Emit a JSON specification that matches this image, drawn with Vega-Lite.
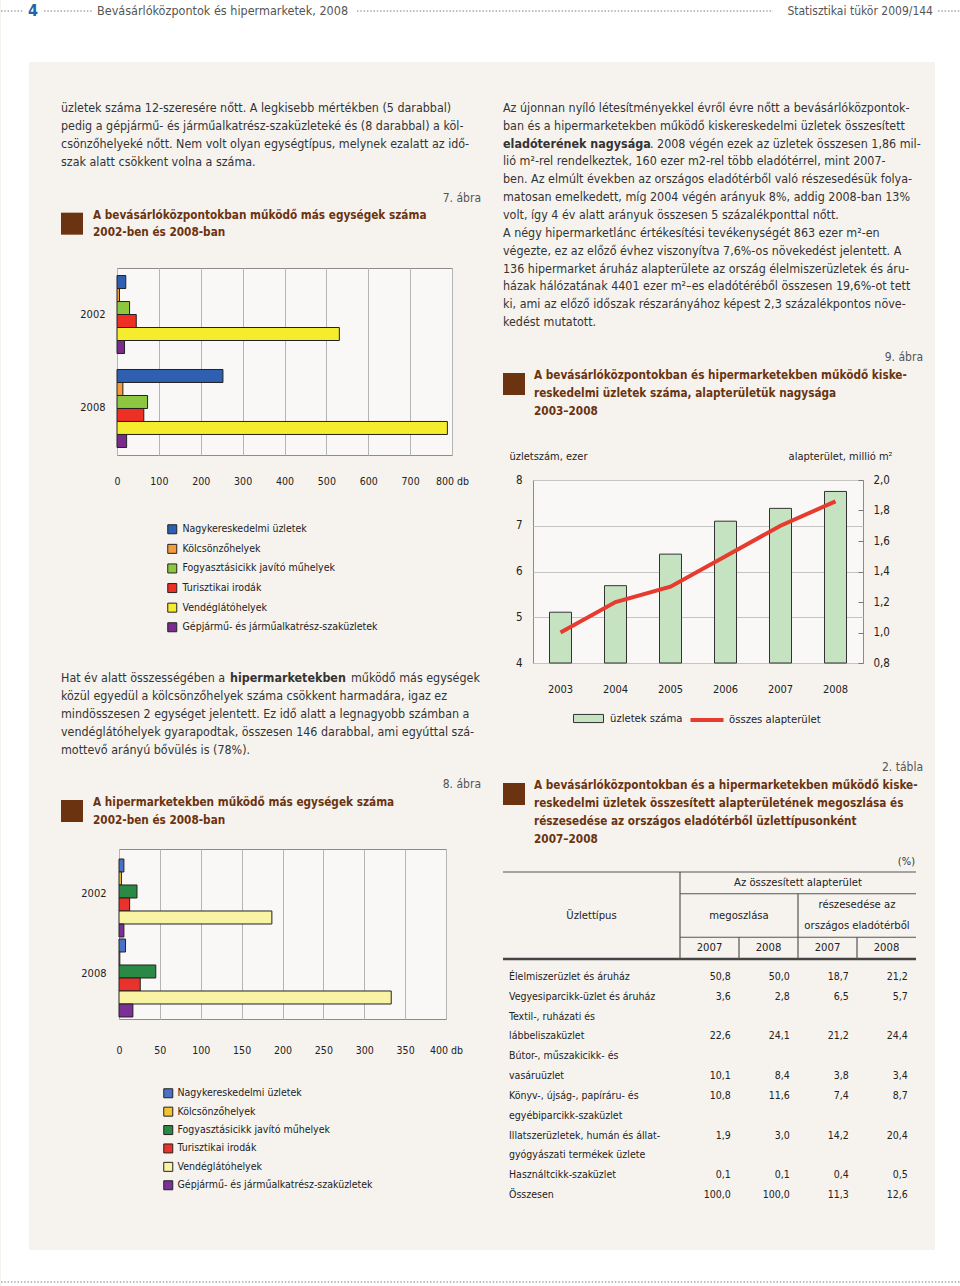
{
"$schema":"https://vega.github.io/schema/vega-lite/v6.json",
"padding":0,
"background":"#f6f3ef",
"spacing":0,
"resolve":{"scale":{"color":"independent","fill":"independent","stroke":"independent"},"legend":{"color":"independent","fill":"independent","stroke":"independent"}},
"config":{"font":"DejaVu Sans Condensed, Liberation Sans, sans-serif","view":{"stroke":null},"locale":{"number":{"decimal":",","thousands":" ","grouping":[3],"currency":["",""]}},"axis":{"labelColor":"#222","titleColor":"#222"},"legend":{"labelColor":"#222"}},
"datasets":{
"chart7":[
{"year":"2002","cat":"Nagykereskedelmi üzletek","value":21},
{"year":"2002","cat":"Kölcsönzőhelyek","value":6},
{"year":"2002","cat":"Fogyasztásicikk javító műhelyek","value":30},
{"year":"2002","cat":"Turisztikai irodák","value":46},
{"year":"2002","cat":"Vendéglátóhelyek","value":531},
{"year":"2002","cat":"Gépjármű- és járműalkatrész-szaküzletek","value":18},
{"year":"2008","cat":"Nagykereskedelmi üzletek","value":253},
{"year":"2008","cat":"Kölcsönzőhelyek","value":14},
{"year":"2008","cat":"Fogyasztásicikk javító műhelyek","value":73},
{"year":"2008","cat":"Turisztikai irodák","value":64},
{"year":"2008","cat":"Vendéglátóhelyek","value":789},
{"year":"2008","cat":"Gépjármű- és járműalkatrész-szaküzletek","value":23}],
"chart8":[
{"year":"2002","cat":"Nagykereskedelmi üzletek","value":6},
{"year":"2002","cat":"Kölcsönzőhelyek","value":3},
{"year":"2002","cat":"Fogyasztásicikk javító műhelyek","value":22},
{"year":"2002","cat":"Turisztikai irodák","value":13},
{"year":"2002","cat":"Vendéglátóhelyek","value":187},
{"year":"2002","cat":"Gépjármű- és járműalkatrész-szaküzletek","value":6},
{"year":"2008","cat":"Nagykereskedelmi üzletek","value":8},
{"year":"2008","cat":"Kölcsönzőhelyek","value":1},
{"year":"2008","cat":"Fogyasztásicikk javító műhelyek","value":45},
{"year":"2008","cat":"Turisztikai irodák","value":26},
{"year":"2008","cat":"Vendéglátóhelyek","value":333},
{"year":"2008","cat":"Gépjármű- és járműalkatrész-szaküzletek","value":17}],
"chart9":[
{"year":"2003","stores":5.11,"area":1.00},
{"year":"2004","stores":5.69,"area":1.20},
{"year":"2005","stores":6.38,"area":1.30},
{"year":"2006","stores":7.10,"area":1.50},
{"year":"2007","stores":7.38,"area":1.70},
{"year":"2008","stores":7.75,"area":1.86}],
"tlabels":[
{"line":1,"text":"Élelmiszerüzlet és áruház"},
{"line":2,"text":"Vegyesiparcikk-üzlet és áruház"},
{"line":3,"text":"Textil-, ruházati és"},
{"line":4,"text":"lábbeliszaküzlet"},
{"line":5,"text":"Bútor-, műszakicikk- és"},
{"line":6,"text":"vasáruüzlet"},
{"line":7,"text":"Könyv-, újság-, papíráru- és"},
{"line":8,"text":"egyébiparcikk-szaküzlet"},
{"line":9,"text":"Illatszerüzletek, humán és állat-"},
{"line":10,"text":"gyógyászati termékek üzlete"},
{"line":11,"text":"Használtcikk-szaküzlet"},
{"line":12,"text":"Összesen"}],
"tcells":[
{"line":1,"col":"m2007","value":50.8},{"line":1,"col":"m2008","value":50.0},{"line":1,"col":"r2007","value":18.7},{"line":1,"col":"r2008","value":21.2},
{"line":2,"col":"m2007","value":3.6},{"line":2,"col":"m2008","value":2.8},{"line":2,"col":"r2007","value":6.5},{"line":2,"col":"r2008","value":5.7},
{"line":4,"col":"m2007","value":22.6},{"line":4,"col":"m2008","value":24.1},{"line":4,"col":"r2007","value":21.2},{"line":4,"col":"r2008","value":24.4},
{"line":6,"col":"m2007","value":10.1},{"line":6,"col":"m2008","value":8.4},{"line":6,"col":"r2007","value":3.8},{"line":6,"col":"r2008","value":3.4},
{"line":7,"col":"m2007","value":10.8},{"line":7,"col":"m2008","value":11.6},{"line":7,"col":"r2007","value":7.4},{"line":7,"col":"r2008","value":8.7},
{"line":9,"col":"m2007","value":1.9},{"line":9,"col":"m2008","value":3.0},{"line":9,"col":"r2007","value":14.2},{"line":9,"col":"r2008","value":20.4},
{"line":11,"col":"m2007","value":0.1},{"line":11,"col":"m2008","value":0.1},{"line":11,"col":"r2007","value":0.4},{"line":11,"col":"r2008","value":0.5},
{"line":12,"col":"m2007","value":100.0},{"line":12,"col":"m2008","value":100.0},{"line":12,"col":"r2007","value":11.3},{"line":12,"col":"r2008","value":12.6}]
},
"vconcat":[
{"width":960,"height":62,"view":{"fill":"#ffffff","stroke":null},"data":{"values":[{}]},
"layer":[
{"mark":{"type":"rule","color":"#a8a8a8","strokeWidth":1.5,"strokeDash":[1.5,1.8]},"encoding":{"x":{"value":0},"x2":{"value":22},"y":{"value":11}}},
{"mark":{"type":"rule","color":"#a8a8a8","strokeWidth":1.5,"strokeDash":[1.5,1.8]},"encoding":{"x":{"value":43},"x2":{"value":92},"y":{"value":11}}},
{"mark":{"type":"rule","color":"#a8a8a8","strokeWidth":1.5,"strokeDash":[1.5,1.8]},"encoding":{"x":{"value":356},"x2":{"value":772},"y":{"value":11}}},
{"mark":{"type":"rule","color":"#a8a8a8","strokeWidth":1.5,"strokeDash":[1.5,1.8]},"encoding":{"x":{"value":937},"x2":{"value":960},"y":{"value":11}}},
{"mark":{"type":"text","text":"4","fontSize":16,"fontWeight":"bold","color":"#1e63ad","align":"center","baseline":"middle"},"encoding":{"x":{"value":32},"y":{"value":11}}},
{"mark":{"type":"text","text":"Bevásárlóközpontok és hipermarketek, 2008","fontSize":12.5,"color":"#555555","align":"left","baseline":"middle"},"encoding":{"x":{"value":96},"y":{"value":11}}},
{"mark":{"type":"text","text":"Statisztikai tükör 2009/144","fontSize":12,"color":"#555555","align":"right","baseline":"middle"},"encoding":{"x":{"value":932},"y":{"value":11}}}
]},
{"spacing":0,"resolve":{"scale":{"color":"independent","fill":"independent","stroke":"independent"},"legend":{"color":"independent","fill":"independent","stroke":"independent"}},"hconcat":[
{"width":28,"height":1188,"view":{"fill":"#ffffff","stroke":null},"data":{"values":[]},"mark":"point"},
{"width":32,"height":1,"data":{"values":[]},"mark":"point"},
{"spacing":0,"resolve":{"scale":{"color":"independent"},"legend":{"color":"independent"}},"vconcat":[
{"width":420,"height":37,"data":{"values":[]},"mark":"point"},
{"width":420,"height":72,"data":{"values":[
{"line":1,"text":"üzletek száma 12-szeresére nőtt. A legkisebb mértékben (5 darabbal)"},
{"line":2,"text":"pedig a gépjármű- és járműalkatrész-szaküzleteké és (8 darabbal) a köl-"},
{"line":3,"text":"csönzőhelyeké nőtt. Nem volt olyan egységtípus, melynek ezalatt az idő-"},
{"line":4,"text":"szak alatt csökkent volna a száma."}]},
"mark":{"type":"text","align":"left","baseline":"middle","fontSize":12.4,"color":"#333333"},
"encoding":{"y":{"field":"line","type":"ordinal","axis":null,"scale":{"type":"point","padding":0.5}},"x":{"value":0},"text":{"field":"text"}}},
{"width":420,"height":18,"data":{"values":[]},"mark":"point"},
{"width":420,"height":52,"data":{"values":[{"row":"a","text":"7. ábra"},{"row":"t1","text":"A bevásárlóközpontokban működő más egységek száma"},{"row":"t2","text":"2002-ben és 2008-ban"}]},
"layer":[
{"transform":[{"filter":"datum.row == 'a'"}],"mark":{"type":"text","align":"right","baseline":"middle","fontSize":12,"color":"#555555"},"encoding":{"x":{"value":420},"y":{"field":"row","type":"ordinal","bandPosition":0.5,"axis":null,"scale":{"type":"band","domain":["a","t1","t2"],"paddingInner":0,"paddingOuter":0}},"text":{"field":"text"}}},
{"transform":[{"filter":"datum.row != 'a'"}],"mark":{"type":"text","align":"left","baseline":"middle","fontSize":11.7,"fontWeight":"bold","color":"#6b3310"},"encoding":{"x":{"value":32},"y":{"field":"row","type":"ordinal","bandPosition":0.5,"axis":null,"scale":{"type":"band","domain":["a","t1","t2"],"paddingInner":0,"paddingOuter":0}},"text":{"field":"text"}}},
{"transform":[{"filter":"datum.row == 't1'"}],"mark":{"type":"point","shape":"square","size":484,"filled":true,"color":"#6b3310","opacity":1},"encoding":{"x":{"value":11},"y":{"field":"row","type":"ordinal","bandPosition":1,"axis":null,"scale":{"type":"band","domain":["a","t1","t2"],"paddingInner":0,"paddingOuter":0}}}}
]},
{"width":420,"height":26,"data":{"values":[]},"mark":"point"},
{"spacing":0,"hconcat":[
{"width":1,"height":187,"data":{"values":[]},"mark":"point"},
{"width":335,"height":187,"data":{"name":"chart7"},
"view":{"stroke":"#8c8c8c","strokeWidth":1,"fill":"#f9f8f6"},
"mark":{"type":"bar","stroke":"#222222","strokeWidth":1},
"encoding":{
"y":{"field":"year","type":"nominal","title":null,"scale":{"paddingInner":0.17,"paddingOuter":0.08},"axis":{"ticks":false,"domain":false,"labelPadding":12,"labelFontSize":11,"minExtent":54}},
"yOffset":{"field":"cat","type":"nominal","sort":["Nagykereskedelmi üzletek","Kölcsönzőhelyek","Fogyasztásicikk javító műhelyek","Turisztikai irodák","Vendéglátóhelyek","Gépjármű- és járműalkatrész-szaküzletek"],"scale":{"paddingInner":0,"paddingOuter":0}},
"x":{"field":"value","type":"quantitative","title":null,"scale":{"domain":[0,800],"nice":false},"axis":{"values":[0,100,200,300,400,500,600,700,800],"grid":true,"gridColor":"#b5b5b5","domain":false,"ticks":false,"labelPadding":21,"labelFontSize":10.5,"labelOverlap":false,"labelFlush":false,"minExtent":213,"labelExpr":"datum.value == 800 ? '800 db' : datum.label"}},
"color":{"field":"cat","type":"nominal","scale":{"domain":["Nagykereskedelmi üzletek","Kölcsönzőhelyek","Fogyasztásicikk javító műhelyek","Turisztikai irodák","Vendéglátóhelyek","Gépjármű- és járműalkatrész-szaküzletek"],"range":["#2e5fb0","#f39c3c","#8dc63f","#ed2f24","#f4ec2c","#7a2b8b"]},
"legend":{"title":null,"orient":"none","legendX":106,"legendY":256,"direction":"vertical","symbolType":"square","symbolSize":81,"symbolStrokeColor":"#222222","symbolStrokeWidth":1,"labelFontSize":10.5,"rowPadding":5.6,"labelOffset":5,"padding":0,"labelLimit":300}}
}}
]},
{"width":420,"height":90,"data":{"values":[
{"line":1,"part":"a","text":"Hat év alatt összességében a"},
{"line":1,"part":"b","text":"hipermarketekben"},
{"line":1,"part":"c","text":"működő más egységek"},
{"line":2,"part":"a","text":"közül egyedül a kölcsönzőhelyek száma csökkent harmadára, igaz ez"},
{"line":3,"part":"a","text":"mindösszesen 2 egységet jelentett. Ez idő alatt a legnagyobb számban a"},
{"line":4,"part":"a","text":"vendéglátóhelyek gyarapodtak, összesen 146 darabbal, ami egyúttal szá-"},
{"line":5,"part":"a","text":"mottevő arányú bővülés is (78%)."}]},
"encoding":{"y":{"field":"line","type":"ordinal","axis":null,"scale":{"type":"point","padding":0.5}},"text":{"field":"text"}},
"layer":[
{"transform":[{"filter":"datum.part == 'a'"}],"mark":{"type":"text","align":"left","baseline":"middle","fontSize":12.4,"color":"#333333"},"encoding":{"x":{"value":0}}},
{"transform":[{"filter":"datum.part == 'b'"}],"mark":{"type":"text","align":"left","baseline":"middle","fontSize":12.4,"fontWeight":"bold","color":"#333333"},"encoding":{"x":{"value":169}}},
{"transform":[{"filter":"datum.part == 'c'"}],"mark":{"type":"text","align":"left","baseline":"middle","fontSize":12.4,"color":"#333333"},"encoding":{"x":{"value":290}}}
]},
{"width":420,"height":16,"data":{"values":[]},"mark":"point"},
{"width":420,"height":54,"data":{"values":[{"row":"a","text":"8. ábra"},{"row":"t1","text":"A hipermarketekben működő más egységek száma"},{"row":"t2","text":"2002-ben és 2008-ban"}]},
"layer":[
{"transform":[{"filter":"datum.row == 'a'"}],"mark":{"type":"text","align":"right","baseline":"middle","fontSize":12,"color":"#555555"},"encoding":{"x":{"value":420},"y":{"field":"row","type":"ordinal","bandPosition":0.5,"axis":null,"scale":{"type":"band","domain":["a","t1","t2"],"paddingInner":0,"paddingOuter":0}},"text":{"field":"text"}}},
{"transform":[{"filter":"datum.row != 'a'"}],"mark":{"type":"text","align":"left","baseline":"middle","fontSize":11.7,"fontWeight":"bold","color":"#6b3310"},"encoding":{"x":{"value":32},"y":{"field":"row","type":"ordinal","bandPosition":0.5,"axis":null,"scale":{"type":"band","domain":["a","t1","t2"],"paddingInner":0,"paddingOuter":0}},"text":{"field":"text"}}},
{"transform":[{"filter":"datum.row == 't1'"}],"mark":{"type":"point","shape":"square","size":484,"filled":true,"color":"#6b3310","opacity":1},"encoding":{"x":{"value":11},"y":{"field":"row","type":"ordinal","bandPosition":1,"axis":null,"scale":{"type":"band","domain":["a","t1","t2"],"paddingInner":0,"paddingOuter":0}}}}
]},
{"width":420,"height":19,"data":{"values":[]},"mark":"point"},
{"spacing":0,"hconcat":[
{"width":1,"height":170,"data":{"values":[]},"mark":"point"},
{"width":327,"height":170,"data":{"name":"chart8"},
"view":{"stroke":"#8c8c8c","strokeWidth":1,"fill":"#f9f8f6"},
"mark":{"type":"bar","stroke":"#222222","strokeWidth":1},
"encoding":{
"y":{"field":"year","type":"nominal","title":null,"scale":{"paddingInner":0.125,"paddingOuter":0.125},"axis":{"ticks":false,"domain":false,"labelPadding":13,"labelFontSize":11,"minExtent":56}},
"yOffset":{"field":"cat","type":"nominal","sort":["Nagykereskedelmi üzletek","Kölcsönzőhelyek","Fogyasztásicikk javító műhelyek","Turisztikai irodák","Vendéglátóhelyek","Gépjármű- és járműalkatrész-szaküzletek"],"scale":{"paddingInner":0,"paddingOuter":0}},
"x":{"field":"value","type":"quantitative","title":null,"scale":{"domain":[0,400],"nice":false},"axis":{"values":[0,50,100,150,200,250,300,350,400],"grid":true,"gridColor":"#b5b5b5","domain":false,"ticks":false,"labelPadding":26,"labelFontSize":10.5,"labelOverlap":false,"labelFlush":false,"labelExpr":"datum.value == 400 ? '400 db' : datum.label"}},
"color":{"field":"cat","type":"nominal","scale":{"domain":["Nagykereskedelmi üzletek","Kölcsönzőhelyek","Fogyasztásicikk javító műhelyek","Turisztikai irodák","Vendéglátóhelyek","Gépjármű- és járműalkatrész-szaküzletek"],"range":["#4a72c4","#f5c232","#2a8a45","#e8322b","#f8f4a4","#7b3096"]},
"legend":{"title":null,"orient":"none","legendX":102,"legendY":239,"direction":"vertical","symbolType":"square","symbolSize":81,"symbolStrokeColor":"#222222","symbolStrokeWidth":1,"labelFontSize":10.5,"rowPadding":4.4,"labelOffset":4,"padding":0,"labelLimit":300}}
}}
]}
]},
{"width":20,"height":1,"data":{"values":[]},"mark":"point"},
{"spacing":0,"resolve":{"scale":{"color":"independent","fill":"independent","stroke":"independent"},"legend":{"color":"independent","fill":"independent","stroke":"independent"}},"vconcat":[
{"width":420,"height":37,"data":{"values":[]},"mark":"point"},
{"width":420,"height":232,"data":{"values":[
{"line":1,"part":"a","text":"Az újonnan nyíló létesítményekkel évről évre nőtt a bevásárlóközpontok-"},
{"line":2,"part":"a","text":"ban és a hipermarketekben működő kiskereskedelmi üzletek összesített"},
{"line":3,"part":"b","text":"eladóterének nagysága"},
{"line":3,"part":"c","text":". 2008 végén ezek az üzletek összesen 1,86 mil-"},
{"line":4,"part":"a","text":"lió m²-rel rendelkeztek, 160 ezer  m2-rel több eladótérrel, mint 2007-"},
{"line":5,"part":"a","text":"ben. Az elmúlt években az országos eladótérből való részesedésük folya-"},
{"line":6,"part":"a","text":"matosan emelkedett, míg 2004 végén arányuk 8%, addig 2008-ban 13%"},
{"line":7,"part":"a","text":"volt, így 4 év alatt arányuk összesen 5 százalékponttal nőtt."},
{"line":8,"part":"a","text":"A négy hipermarketlánc értékesítési tevékenységét 863 ezer m²-en"},
{"line":9,"part":"a","text":"végezte, ez az előző évhez viszonyítva 7,6%-os növekedést jelentett. A"},
{"line":10,"part":"a","text":"136 hipermarket áruház alapterülete az ország élelmiszerüzletek és áru-"},
{"line":11,"part":"a","text":"házak hálózatának 4401 ezer m²–es eladótéréből összesen 19,6%-ot tett"},
{"line":12,"part":"a","text":"ki, ami az előző időszak részarányához képest 2,3 százalékpontos növe-"},
{"line":13,"part":"a","text":"kedést mutatott."}]},
"encoding":{"y":{"field":"line","type":"ordinal","axis":null,"scale":{"type":"point","padding":0.5}},"text":{"field":"text"}},
"layer":[
{"transform":[{"filter":"datum.part == 'a'"}],"mark":{"type":"text","align":"left","baseline":"middle","fontSize":12.4,"color":"#333333"},"encoding":{"x":{"value":0}}},
{"transform":[{"filter":"datum.part == 'b'"}],"mark":{"type":"text","align":"left","baseline":"middle","fontSize":12.4,"fontWeight":"bold","color":"#333333"},"encoding":{"x":{"value":0}}},
{"transform":[{"filter":"datum.part == 'c'"}],"mark":{"type":"text","align":"left","baseline":"middle","fontSize":12.4,"color":"#333333"},"encoding":{"x":{"value":147}}}
]},
{"width":420,"height":17,"data":{"values":[]},"mark":"point"},
{"width":420,"height":72,"data":{"values":[{"row":"a","text":"9. ábra"},{"row":"t1","text":"A bevásárlóközpontokban és hipermarketekben működő kiske-"},{"row":"t2","text":"reskedelmi üzletek száma, alapterületük nagysága"},{"row":"t3","text":"2003–2008"}]},
"layer":[
{"transform":[{"filter":"datum.row == 'a'"}],"mark":{"type":"text","align":"right","baseline":"middle","fontSize":12,"color":"#555555"},"encoding":{"x":{"value":420},"y":{"field":"row","type":"ordinal","bandPosition":0.5,"axis":null,"scale":{"type":"band","domain":["a","t1","t2","t3"],"paddingInner":0,"paddingOuter":0}},"text":{"field":"text"}}},
{"transform":[{"filter":"datum.row != 'a'"}],"mark":{"type":"text","align":"left","baseline":"middle","fontSize":11.7,"fontWeight":"bold","color":"#6b3310"},"encoding":{"x":{"value":31},"y":{"field":"row","type":"ordinal","bandPosition":0.5,"axis":null,"scale":{"type":"band","domain":["a","t1","t2","t3"],"paddingInner":0,"paddingOuter":0}},"text":{"field":"text"}}},
{"transform":[{"filter":"datum.row == 't1'"}],"mark":{"type":"point","shape":"square","size":484,"filled":true,"color":"#6b3310","opacity":1},"encoding":{"x":{"value":11},"y":{"field":"row","type":"ordinal","bandPosition":1,"axis":null,"scale":{"type":"band","domain":["a","t1","t2","t3"],"paddingInner":0,"paddingOuter":0}}}}
]},
{"width":420,"height":29,"data":{"values":[]},"mark":"point"},
{"spacing":0,"hconcat":[
{"width":1,"height":183,"data":{"values":[]},"mark":"point"},
{"width":330,"height":183,"data":{"name":"chart9"},
"view":{"stroke":"#8c8c8c","strokeWidth":1,"fill":"#f9f8f6"},
"encoding":{"x":{"field":"year","type":"ordinal","title":null,"scale":{"paddingInner":0.6,"paddingOuter":0.3},"axis":{"labelAngle":0,"ticks":false,"domain":false,"labelPadding":20,"labelFontSize":11,"minExtent":94}}},
"layer":[
{"mark":{"type":"bar","stroke":"#333333","strokeWidth":1},
"encoding":{
"y":{"field":"stores","type":"quantitative","scale":{"domain":[4,8],"zero":false,"nice":false},"axis":{"title":"üzletszám, ezer","titleAngle":0,"titleAlign":"left","titleBaseline":"middle","titleX":-24,"titleY":-24,"titleFontWeight":"normal","titleFontSize":11,"values":[4,5,6,7,8],"grid":true,"gridColor":"#c4c4c4","ticks":false,"domain":false,"labelPadding":11,"labelFontSize":11.5,"minExtent":28}},
"y2":{"datum":4},
"fill":{"datum":"üzletek száma","type":"nominal","scale":{"range":["#c5e2c1"]},
"legend":{"title":null,"orient":"none","legendX":70,"legendY":223,"symbolType":"M-1,-0.27H1V0.27H-1Z","symbolSize":900,"symbolStrokeColor":"#333333","symbolStrokeWidth":1,"labelFontSize":11.2,"labelOffset":6,"padding":0,"labelLimit":300}}}},
{"mark":{"type":"line","strokeWidth":4},
"encoding":{
"y":{"field":"area","type":"quantitative","scale":{"domain":[0.8,2.0],"zero":false,"nice":false},"axis":{"orient":"right","title":"alapterület, millió m²","titleAngle":0,"titleAlign":"right","titleBaseline":"middle","titleX":29,"titleY":-24,"titleFontWeight":"normal","titleFontSize":11,"values":[0.8,1.0,1.2,1.4,1.6,1.8,2.0],"format":".1f","grid":false,"ticks":true,"tickSize":-5,"tickColor":"#777777","domain":false,"labelPadding":15,"labelFontSize":11.5}},
"stroke":{"datum":"összes alapterület","type":"nominal","scale":{"range":["#e63b2e"]},
"legend":{"title":null,"orient":"none","legendX":187,"legendY":223,"symbolType":"M-1.1,0H1.1","symbolSize":900,"symbolStrokeWidth":4,"symbolFillColor":"transparent","labelFontSize":11.2,"labelOffset":5,"padding":0,"labelLimit":300}}}}
],
"resolve":{"scale":{"y":"independent"}}}
]},
{"width":420,"height":90,"data":{"values":[{"row":"a","text":"2. tábla"},{"row":"t1","text":"A bevásárlóközpontokban és a hipermarketekben működő kiske-"},{"row":"t2","text":"reskedelmi üzletek összesített alapterületének megoszlása és"},{"row":"t3","text":"részesedése az országos eladótérből üzlettípusonként"},{"row":"t4","text":"2007–2008"}]},
"layer":[
{"transform":[{"filter":"datum.row == 'a'"}],"mark":{"type":"text","align":"right","baseline":"middle","fontSize":12,"color":"#555555"},"encoding":{"x":{"value":420},"y":{"field":"row","type":"ordinal","bandPosition":0.5,"axis":null,"scale":{"type":"band","domain":["a","t1","t2","t3","t4"],"paddingInner":0,"paddingOuter":0}},"text":{"field":"text"}}},
{"transform":[{"filter":"datum.row != 'a'"}],"mark":{"type":"text","align":"left","baseline":"middle","fontSize":11.7,"fontWeight":"bold","color":"#6b3310"},"encoding":{"x":{"value":31},"y":{"field":"row","type":"ordinal","bandPosition":0.5,"axis":null,"scale":{"type":"band","domain":["a","t1","t2","t3","t4"],"paddingInner":0,"paddingOuter":0}},"text":{"field":"text"}}},
{"transform":[{"filter":"datum.row == 't1'"}],"mark":{"type":"point","shape":"square","size":484,"filled":true,"color":"#6b3310","opacity":1},"encoding":{"x":{"value":11},"y":{"field":"row","type":"ordinal","bandPosition":1,"axis":null,"scale":{"type":"band","domain":["a","t1","t2","t3","t4"],"paddingInner":0,"paddingOuter":0}}}}
]},
{"width":420,"height":5,"data":{"values":[]},"mark":"point"},
{"width":420,"height":18,"data":{"values":[{}]},"mark":{"type":"text","text":"(%)","align":"right","baseline":"middle","fontSize":11,"color":"#333333"},"encoding":{"x":{"value":412},"y":{"value":9}}},
{"width":413,"height":87,
"layer":[
{"data":{"values":[{"row":"h1","col":"c0","col2":"r2008"},{"row":"h2a","col":"m2007","col2":"r2008"},{"row":"h3","col":"m2007","col2":"r2008"}]},
"mark":{"type":"rule","color":"#555555","strokeWidth":1.2},
"encoding":{"y":{"field":"row","type":"ordinal","bandPosition":0,"axis":null,"scale":{"type":"band","domain":["h1","h2a","h2b","h3"],"paddingInner":0,"paddingOuter":0}},
"x":{"field":"col","type":"nominal","bandPosition":0,"axis":null,"scale":{"type":"band","domain":["c0","c1","c2","m2007","m2008","r2007","r2008"],"paddingInner":0,"paddingOuter":0}},
"x2":{"field":"col2","bandPosition":1}}},
{"data":{"values":[{"row":"h3","col":"c0","col2":"r2008"}]},
"mark":{"type":"rule","color":"#444444","strokeWidth":2.5},
"encoding":{"y":{"field":"row","type":"ordinal","bandPosition":1,"axis":null},
"x":{"field":"col","type":"nominal","bandPosition":0,"axis":null},
"x2":{"field":"col2","bandPosition":1}}},
{"data":{"values":[{"col":"m2007","row":"h1","row2":"h3"},{"col":"r2007","row":"h2a","row2":"h3"},{"col":"m2008","row":"h3","row2":"h3"},{"col":"r2008","row":"h3","row2":"h3"}]},
"mark":{"type":"rule","color":"#555555","strokeWidth":1.2},
"encoding":{"x":{"field":"col","type":"nominal","bandPosition":0,"axis":null},
"y":{"field":"row","type":"ordinal","bandPosition":0,"axis":null},
"y2":{"field":"row2","bandPosition":1}}},
{"data":{"values":[{"col":"r2007","row":"h1","text":"Az összesített alapterület"},{"col":"r2008","row":"h2a","text":"részesedése az"},{"col":"r2008","row":"h2b","text":"országos eladótérből"}]},
"mark":{"type":"text","align":"center","baseline":"middle","fontSize":11.2,"color":"#222222"},
"encoding":{"x":{"field":"col","type":"nominal","bandPosition":0,"axis":null},"y":{"field":"row","type":"ordinal","bandPosition":0.5,"axis":null},"text":{"field":"text"}}},
{"data":{"values":[{"col":"c1","row":"h2b","text":"Üzlettípus"}]},
"mark":{"type":"text","align":"center","baseline":"middle","fontSize":11.2,"color":"#222222"},
"encoding":{"x":{"field":"col","type":"nominal","bandPosition":0.5,"axis":null},"y":{"field":"row","type":"ordinal","bandPosition":0,"axis":null},"text":{"field":"text"}}},
{"data":{"values":[{"col":"m2008","row":"h2b","text":"megoszlása"}]},
"mark":{"type":"text","align":"center","baseline":"middle","fontSize":11.2,"color":"#222222"},
"encoding":{"x":{"field":"col","type":"nominal","bandPosition":0,"axis":null},"y":{"field":"row","type":"ordinal","bandPosition":0,"axis":null},"text":{"field":"text"}}},
{"data":{"values":[{"col":"m2007","row":"h3","text":"2007"},{"col":"m2008","row":"h3","text":"2008"},{"col":"r2007","row":"h3","text":"2007"},{"col":"r2008","row":"h3","text":"2008"}]},
"mark":{"type":"text","align":"center","baseline":"middle","fontSize":11.2,"color":"#222222"},
"encoding":{"x":{"field":"col","type":"nominal","bandPosition":0.5,"axis":null},"y":{"field":"row","type":"ordinal","bandPosition":0.5,"axis":null},"text":{"field":"text"}}}
]},
{"width":420,"height":6,"data":{"values":[]},"mark":"point"},
{"width":413,"height":238,
"layer":[
{"data":{"name":"tlabels"},
"mark":{"type":"text","align":"left","baseline":"middle","fontSize":10.5,"color":"#222222"},
"encoding":{"x":{"value":6},"y":{"field":"line","type":"ordinal","bandPosition":0.5,"axis":null,"scale":{"type":"band","paddingInner":0,"paddingOuter":0}},"text":{"field":"text"}}},
{"data":{"name":"tcells"},
"mark":{"type":"text","align":"right","baseline":"middle","fontSize":10.5,"color":"#222222"},
"encoding":{"x":{"field":"col","type":"nominal","bandPosition":0.86,"axis":null,"scale":{"type":"band","domain":["c0","c1","c2","m2007","m2008","r2007","r2008"],"paddingInner":0,"paddingOuter":0}},"y":{"field":"line","type":"ordinal","bandPosition":0.5,"axis":null},"text":{"field":"value","type":"quantitative","format":".1f"}}}
]}
]},
{"width":12,"height":1,"data":{"values":[]},"mark":"point"},
{"width":28,"height":1188,"view":{"fill":"#ffffff","stroke":null},"data":{"values":[]},"mark":"point"}
]},
{"width":960,"height":36,"view":{"fill":"#ffffff","stroke":null},"data":{"values":[{}]},"mark":{"type":"rule","color":"#a8a8a8","strokeWidth":1.5,"strokeDash":[1.5,1.8]},"encoding":{"x":{"value":0},"x2":{"value":960},"y":{"value":32}}}
]
}
